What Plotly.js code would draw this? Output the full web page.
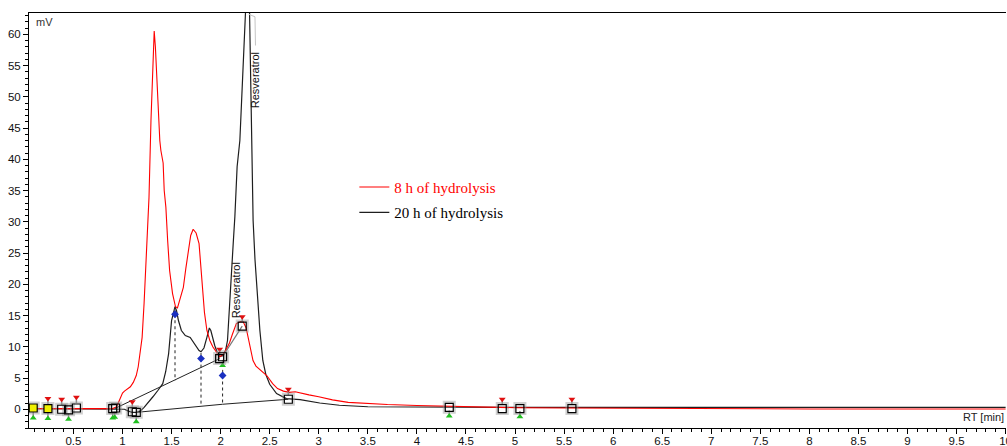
<!DOCTYPE html>
<html>
<head>
<meta charset="utf-8">
<script src="https://cdn.plot.ly/plotly-3.0.1.min.js"></script>
<style>
  html, body { margin: 0; padding: 0; background: #fff; }
  #chart { width: 1007px; height: 446px; }
</style>
</head>
<body>
<div id="chart"></div>
<script>
// Retention times (min) and detector signal (mV) for each hydrolysis run
const rt8h = [0.05,0.2,0.4,0.6,0.8,0.9,0.94,0.96,0.98,1.0,1.02,1.05,1.08,1.11,1.14,1.16,1.18,1.2,1.22,1.24,1.26,1.27,1.29,1.31,1.323,1.335,1.347,1.364,1.38,1.391,1.414,1.425,1.442,1.46,1.48,1.51,1.54,1.56,1.59,1.62,1.645,1.67,1.695,1.72,1.75,1.78,1.795,1.81,1.835,1.86,1.89,1.92,1.96,1.99,2.03,2.06,2.09,2.12,2.16,2.2,2.23,2.26,2.28,2.3,2.33,2.36,2.4,2.43,2.47,2.53,2.58,2.64,2.7,2.76,2.81,2.9,3.0,3.14,3.3,3.49,3.7,4.0,4.5,5.0,5.5,6.0,6.5,7.0,8.0,9.0,10.0];
const mv8h = [0.1,0.1,0.1,0.1,0.1,0.1,0.4,1.2,2.0,2.6,2.9,3.2,3.6,4.3,5.4,6.8,8.9,11.5,17,24.9,30.5,33.9,46.2,57,60.5,58,54.2,47.4,43,41.4,39.4,35,32.3,27,22.2,18.5,16.4,16.2,17.8,19.5,22.5,25.5,27.8,28.8,28.2,26.5,23.5,19.6,15.5,12.6,11,10,9.0,8.4,8.8,9.6,10.6,12,13.7,14.0,14.0,13.0,11.6,9.8,7.8,6.9,6.3,6.0,5.4,4.1,3.3,2.9,2.7,2.8,2.6,2.3,2.0,1.5,1.1,0.9,0.75,0.6,0.4,0.25,0.2,0.15,0.1,0.1,0.05,0.05,0.05];

const rt20h = [0.05,0.2,0.4,0.6,0.8,0.92,0.97,1.02,1.06,1.1,1.14,1.18,1.22,1.26,1.31,1.36,1.41,1.44,1.47,1.50,1.52,1.535,1.55,1.57,1.60,1.64,1.69,1.72,1.75,1.78,1.80,1.83,1.86,1.885,1.90,1.92,1.94,1.97,1.99,2.02,2.05,2.07,2.09,2.11,2.13,2.145,2.168,2.196,2.223,2.246,2.264,2.28,2.292,2.302,2.312,2.32,2.331,2.35,2.37,2.40,2.43,2.46,2.50,2.57,2.67,2.81,3.01,3.21,3.5,4.0,5.0,6.0,7.0,8.0,9.0,10.0];
const mv20h = [0.1,0.1,0.1,0.1,0.1,0.1,0.1,0.0,-0.3,-0.5,-0.5,-0.3,0.3,1.0,2.0,3.0,4.1,6.0,8.9,14.2,15.8,16.4,15.8,14.2,12.6,11.8,11.5,10.8,9.9,9.4,9.2,9.8,11.5,13.0,12.6,11.2,10.2,8.9,8.4,8.6,9.4,11,17.0,22,27,30.8,38.8,43,51,57.4,63.4,73,66,58,47,40,30.2,24,19.6,12.6,7.8,5.6,4.0,2.5,1.7,1.55,1.0,0.64,0.4,0.35,0.3,0.3,0.3,0.3,0.3,0.3];

// Integration marks: peak boundary squares
const boundRt = [0.38,0.45,0.53,0.90,0.93,1.10,1.14,1.99,2.02,2.22,2.69,4.33,4.87,5.05,5.58];
const boundMv = [0.0,-0.1,0.2,0.1,0.2,-0.4,-0.5,8.1,8.4,13.3,1.6,0.3,0.1,0.1,0.1];
const refRt = [0.09,0.24];
const refMv = [0.2,0.1];

// Peak start (red) and peak end (green) flags
const startRt = [0.24,0.38,0.53,1.10,1.99,2.22,2.69,4.87,5.58];
const startMv = [1.7,1.6,1.9,1.2,9.6,14.8,3.2,1.6,1.6];
const endRt = [0.09,0.24,0.45,0.90,0.92,1.14,2.02,4.33,5.05];
const endMv = [-1.4,-1.5,-1.6,-1.4,-1.3,-2.0,7.0,-1.1,-1.2];

// Valley (peak split) points and their drop lines
const valleyRt = [1.535,1.80,2.02];
const valleyMv = [15.2,8.1,5.4];
const valleyBaseMv = [4.6,0.55,0.8];

// Baselines
const baseART = [0.92,1.99];
const baseAMv = [0.1,8.1];
const baseBRt = [2.02,2.22];
const baseBMv = [8.4,13.3];
const baseCRt = [1.14,1.80,2.02,2.69];
const baseCMv = [-0.5,0.55,0.8,1.6];

// Peak label leader
const leaderRt = [2.285,2.35,2.355];
const leaderMv = [63.2,62.8,58.2];

const labelName = 'Resveratrol';
const seriesNames = ['8 h of hydrolysis','20 h of hydrolysis'];

const RED = '#ff0000';
const BLACK = '#1e1e1e';

function pairs(xs, tops, bottoms) {
  const x = [], y = [];
  xs.forEach((t, i) => { x.push(t, t, null); y.push(tops[i], bottoms[i], null); });
  return {x, y};
}
const drops = pairs(valleyRt, valleyMv, valleyBaseMv);
const zeros = a => a.map(() => 0);
const stems = a => a.map(() => 0.9);

const traces = [
  { x: rt20h, y: mv20h, type: 'scatter', mode: 'lines', name: seriesNames[1],
    legendrank: 2, legendgroup: 'b', line: { color: BLACK, width: 1.2 } },
  { x: rt8h, y: mv8h, type: 'scatter', mode: 'lines',
    name: '<span style="color:#ff0000">' + seriesNames[0] + '</span>',
    legendrank: 1, legendgroup: 'a', line: { color: RED, width: 1.1 } },
  { x: baseART, y: baseAMv, mode: 'lines', showlegend: false, line: { color: '#222', width: 1 } },
  { x: baseBRt, y: baseBMv, mode: 'lines', showlegend: false, line: { color: '#777', width: 1.2 } },
  { x: baseCRt, y: baseCMv, mode: 'lines', showlegend: false, line: { color: '#222', width: 1 } },
  { x: drops.x, y: drops.y, mode: 'lines', showlegend: false, connectgaps: false,
    line: { color: '#222', width: 1, dash: '3px,3px' } },
  { x: leaderRt, y: leaderMv, mode: 'lines', showlegend: false, line: { color: '#c4c4c4', width: 1 } },
  // start flags
  { x: startRt, y: startMv, mode: 'markers', showlegend: false,
    marker: { symbol: 'triangle-down', size: 6, color: '#e01010' },
    error_y: { type: 'data', symmetric: false, array: zeros(startRt), arrayminus: stems(startRt),
               color: '#8a8a8a', thickness: 1.5, width: 0 } },
  // end flags
  { x: endRt, y: endMv, mode: 'markers', showlegend: false,
    marker: { symbol: 'triangle-up', size: 6, color: '#20c020' },
    error_y: { type: 'data', symmetric: false, array: stems(endRt), arrayminus: zeros(endRt),
               color: '#8a8a8a', thickness: 1.5, width: 0 } },
  // valley points
  { x: valleyRt, y: valleyMv, mode: 'markers', showlegend: false,
    marker: { symbol: 'diamond', size: 6, color: '#1a30c0' },
    error_y: { type: 'data', symmetric: false, array: stems(valleyRt), arrayminus: zeros(valleyRt),
               color: '#555', thickness: 1.2, width: 0 } },
  // boundary squares (soft halo, then outline)
  { x: boundRt.concat(refRt), y: boundMv.concat(refMv), mode: 'markers', showlegend: false,
    marker: { symbol: 'square-open', size: 11, color: 'rgba(150,150,150,0.45)', line: { width: 2 } } },
  { x: boundRt, y: boundMv, mode: 'markers', showlegend: false,
    marker: { symbol: 'square-open', size: 8, color: '#000', line: { width: 1.2 } } },
  { x: refRt, y: refMv, mode: 'markers', showlegend: false,
    marker: { symbol: 'square', size: 8, color: '#f0f000', line: { color: '#000', width: 1.2 } } }
];

const tickFont = { family: 'Liberation Sans, Arial, sans-serif', size: 11.5, color: '#111' };

const layout = {
  width: 1007, height: 446,
  margin: { l: 29, r: 1, t: 13, b: 18, pad: 0 },
  paper_bgcolor: '#fff', plot_bgcolor: '#fff',
  showlegend: true,
  legend: {
    x: 0.333, y: 0.62, xanchor: 'left', yanchor: 'top',
    bgcolor: 'rgba(0,0,0,0)', borderwidth: 0,
    font: { family: 'Liberation Serif, Times New Roman, serif', size: 15, color: '#000' },
    tracegroupgap: 3, traceorder: 'grouped'
  },
  xaxis: {
    range: [0.047, 10.004], tick0: 0, dtick: 0.5,
    ticks: 'outside', ticklen: 5, tickwidth: 1, tickcolor: '#000',
    ticklabelstandoff: -3, ticklabeloverflow: 'allow',
    minor: { dtick: 0.1, ticks: 'outside', ticklen: 3, tickcolor: '#000' },
    showline: true, linecolor: '#000', linewidth: 1, mirror: true,
    showgrid: false, zeroline: false, tickfont: tickFont
  },
  yaxis: {
    range: [-3, 63.4], tick0: 0, dtick: 5,
    ticks: 'outside', ticklen: 5, tickwidth: 1, tickcolor: '#000',
    minor: { dtick: 1, ticks: 'outside', ticklen: 3, tickcolor: '#000' },
    showline: true, linecolor: '#000', linewidth: 1,
    showgrid: false, zeroline: false, tickfont: tickFont
  },
  annotations: [
    { text: 'mV', xref: 'paper', yref: 'paper', x: 0.005, y: 0.997, xanchor: 'left', yanchor: 'top',
      showarrow: false, font: { family: 'Liberation Sans, Arial, sans-serif', size: 11, color: '#333' } },
    { text: 'RT [min]', xref: 'paper', yref: 'y', x: 1, y: -1.2, xanchor: 'right', yanchor: 'middle',
      showarrow: false, font: { family: 'Liberation Sans, Arial, sans-serif', size: 11, color: '#222' } },
    { text: labelName, xref: 'x', yref: 'y', x: 2.348, y: 52.6, textangle: -90,
      xanchor: 'center', yanchor: 'middle', showarrow: false,
      font: { family: 'Liberation Sans, Arial, sans-serif', size: 11, color: '#111' } },
    { text: labelName, xref: 'x', yref: 'y', x: 2.155, y: 19, textangle: -90,
      xanchor: 'center', yanchor: 'middle', showarrow: false,
      font: { family: 'Liberation Sans, Arial, sans-serif', size: 11, color: '#111' } }
  ]
};

Plotly.newPlot('chart', traces, layout, { displayModeBar: false, staticPlot: true });
</script>
</body>
</html>
